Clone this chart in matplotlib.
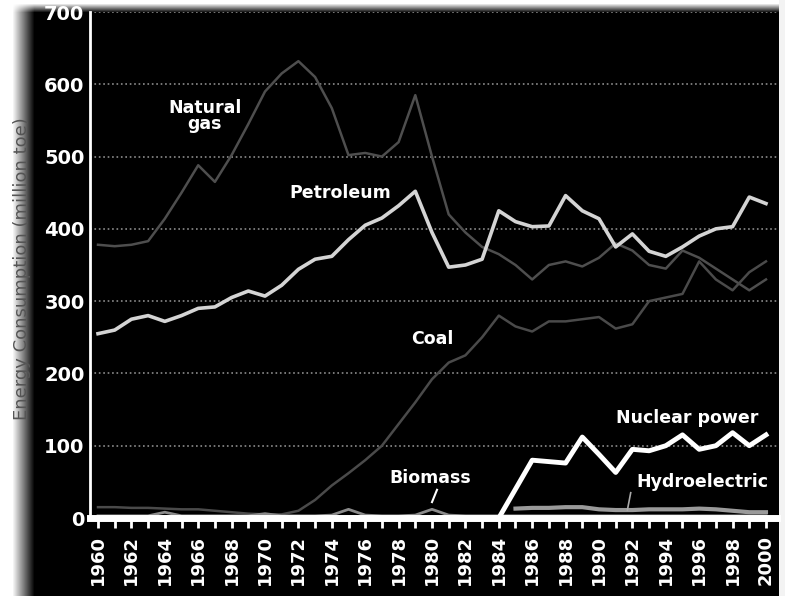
import matplotlib.pyplot as plt
import numpy as np

years = list(range(1960, 2001))

petroleum = [255, 260, 275, 280, 272, 280, 290, 292, 305, 314,
             307, 322, 344, 358, 362, 385, 405, 415, 432, 452,
             395, 347, 350, 358, 425, 410, 403, 404, 446, 425,
             414, 375, 393, 369, 362, 375, 390, 400, 403, 444, 435]
natural_gas = [378, 376, 378, 383, 414, 450, 488, 465, 502, 545,
               590, 615, 632, 610, 567, 502, 505, 500, 520, 585,
               500, 420, 395, 375, 365, 350, 330, 350, 355, 348,
               360, 380, 370, 350, 345, 370, 360, 345, 330, 315, 330]
coal = [15, 15, 14, 14, 13, 12, 12, 10, 8, 6,
        5, 5, 10, 25, 45, 62, 80, 100, 130, 160,
        192, 215, 225, 250, 280, 265, 258, 272, 272, 275,
        278, 262, 268, 300, 305, 310, 355, 330, 315, 340, 355]
nuclear = [0] * 25 + [40, 80, 78, 76, 112, 88, 63, 95, 93, 100,
                      115, 95, 100, 118, 100, 115]
hydro = [np.nan] * 25 + [13, 14, 14, 15, 15, 12, 11, 11, 12, 12,
                         12, 13, 12, 10, 8, 8]
biomass = [3, 3, 3, 3, 8, 3, 3, 3, 3, 3,
           6, 3, 3, 3, 4, 12, 4, 3, 3, 4,
           12, 4, 3, 3, 3, 3, 3, 3, 3, 3,
           3, 3, 3, 3, 3, 3, 3, 3, 3, 3, 3]

fig = plt.figure(figsize=(7.85, 5.96), dpi=100, facecolor='white')

# scanned-looking dark backdrop with faded left/top edges
bg = fig.add_axes([0, 0, 1, 1], zorder=-10)
cols = np.clip((np.arange(785) - 12) / 22.0, 0, 1)
rows = np.clip((np.arange(596) - 3) / 9.0, 0, 1)
shade = 1 - np.outer(rows, cols)
shade[:, 779:] = 0.95
bg.imshow(shade, cmap='gray', vmin=0, vmax=1, aspect='auto', extent=[0, 1, 0, 1])
bg.axis('off')

ax = fig.add_axes([90 / 785, 78 / 596, 687 / 785, 506 / 596])
ax.set_facecolor('none')

ax.plot(years, natural_gas, color='#4e4e4e', lw=1.8)
ax.plot(years, coal, color='#4a4a4a', lw=1.8)
ax.plot(years, hydro, color='#9a9a9a', lw=3)
ax.plot(years, biomass, color='#8a8a8a', lw=2)
ax.plot(years, petroleum, color='#d4d4d4', lw=2.6)
ax.plot(years, nuclear, color='white', lw=3.5)

ax.set_xlim(1959.52, 2000.66)
ax.set_ylim(0, 700)
ax.set_yticks(range(0, 701, 100))
ax.set_xticks(range(1960, 2001, 2))
ax.set_xticks(range(1960, 2001), minor=True)
ax.set_xticklabels([str(y) for y in range(1960, 2001, 2)], rotation=90,
                   fontweight='bold')
ax.set_yticklabels([str(v) for v in range(0, 701, 100)], fontweight='bold')
ax.grid(axis='y', color='#8c8c8c', linestyle=':', lw=1.2)
ax.set_axisbelow(True)

for side in ['top', 'right']:
    ax.spines[side].set_visible(False)
ax.spines['left'].set_color('white')
ax.spines['left'].set_linewidth(2)
ax.spines['bottom'].set_color('white')
ax.spines['bottom'].set_linewidth(5)

ax.tick_params(axis='y', colors='white', labelsize=14, length=0, pad=4)
ax.tick_params(axis='x', which='both', colors='white', direction='out',
               length=7, width=2, labelsize=13, pad=5)

lab = dict(color='white', fontsize=12.5, fontweight='bold', ha='center', va='center')
ax.text(1966.4, 556, 'Natural\ngas', linespacing=0.9, **lab)
ax.text(1974.5, 449, 'Petroleum', **lab)
ax.text(1980.0, 247, 'Coal', **lab)
ax.text(1979.9, 56, 'Biomass', **lab)
ax.plot([1980.3, 1980.0], [39, 22], color='white', lw=1.5)
ax.text(1995.3, 139, 'Nuclear power', **lab)
ax.text(1996.2, 50, 'Hydroelectric', **lab)
ax.plot([1991.9, 1991.7], [35, 11], color='#aaaaaa', lw=1.2)

fig.text(22 / 785, 0.55, 'Energy Consumption (million toe)', rotation=90,
         color='#555555', fontsize=13, ha='center', va='center')

fig.savefig('out.png', dpi=100, facecolor=fig.get_facecolor())
